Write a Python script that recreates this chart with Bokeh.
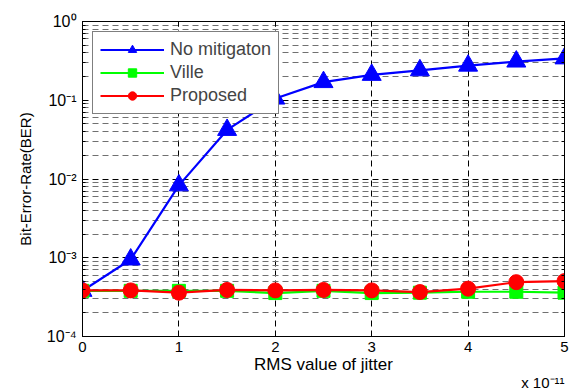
from bokeh.plotting import figure
from bokeh.models import FixedTicker, LogAxis, LinearAxis, Legend, LegendItem, Title
from bokeh.embed import file_html
from bokeh.resources import INLINE

# ---- data (x in units of 1e-11 s) ----
jitter = [0, 0.5, 1, 1.5, 2, 2.5, 3, 3.5, 4, 4.5, 5]
ber_no_mitigation = [3.8e-4, 9.5e-4, 8.3e-3, 4.2e-2, 1.05e-1, 1.7e-1, 2.1e-1, 2.4e-1, 2.75e-1, 3.1e-1, 3.4e-1]
ber_ville = [3.8e-4, 3.8e-4, 3.8e-4, 3.8e-4, 3.56e-4, 3.8e-4, 3.56e-4, 3.6e-4, 3.7e-4, 3.7e-4, 3.6e-4]
ber_proposed = [3.85e-4, 3.85e-4, 3.6e-4, 3.9e-4, 3.85e-4, 3.9e-4, 3.85e-4, 3.67e-4, 4.05e-4, 4.9e-4, 5.05e-4]

x_ticks = [0, 1, 2, 3, 4, 5]
y_ticks = [1e-4, 1e-3, 1e-2, 1e-1, 1.0]
y_tick_labels = ["10\u207b\u2074", "10\u207b\u00b3", "10\u207b\u00b2", "10\u207b\u00b9", "10\u2070"]
y_minor = [m * d for d in [1e-4, 1e-3, 1e-2, 1e-1] for m in range(2, 10)]

FONT = "Liberation Sans"

p = figure(width=580, height=390, y_axis_type="log", x_range=(0, 5), y_range=(1e-4, 1),
           output_backend="svg", toolbar_location=None,
           min_border_left=82, min_border_right=16, min_border_top=21, min_border_bottom=54)

p.outline_line_color = "black"
p.outline_line_width = 1

# axes
yt = FixedTicker(ticks=y_ticks, minor_ticks=y_minor)
xt = FixedTicker(ticks=x_ticks, minor_ticks=[])
p.yaxis.ticker = yt
p.xaxis.ticker = xt
p.yaxis.major_label_overrides = {t: l for t, l in zip(y_ticks, y_tick_labels)}
for ax in (p.xaxis, p.yaxis):
    ax.major_tick_in = 5
    ax.major_tick_out = 0
    ax.minor_tick_in = 3
    ax.minor_tick_out = 0
    ax.axis_line_color = "black"
    ax.major_label_text_font = FONT
    ax.major_label_text_color = "black"
    ax.axis_label_text_font = FONT
    ax.axis_label_text_font_style = "normal"
    ax.axis_label_text_color = "black"
p.xaxis.major_label_text_font_size = "15px"
p.yaxis.major_label_text_font_size = "16px"
p.xaxis.axis_label = "RMS value of jitter"
p.yaxis.axis_label = "Bit-Error-Rate(BER)"
p.xaxis.axis_label_text_font_size = "17px"
p.yaxis.axis_label_text_font_size = "15px"
p.xaxis.major_label_standoff = 5
p.xaxis.axis_label_standoff = 0
p.yaxis.major_label_standoff = 6
p.yaxis.axis_label_standoff = 10

# mirrored tick-only axes
ra = LogAxis(ticker=yt, major_label_text_font_size="1px", major_label_text_alpha=0,
             major_tick_in=5, major_tick_out=0, minor_tick_in=3, minor_tick_out=0, major_label_standoff=0)
ta = LinearAxis(ticker=xt, major_label_text_font_size="1px", major_label_text_alpha=0,
                major_tick_in=5, major_tick_out=0, minor_tick_in=0, minor_tick_out=0, major_label_standoff=0)
p.add_layout(ra, "right")
p.add_layout(ta, "above")

# exponent note below the x axis
p.add_layout(Title(text="x 10\u207b\u00b9\u00b9", align="right", text_font=FONT, text_font_size="15px",
                   text_font_style="normal", text_color="black", standoff=-9, offset=0), "below")

# series
r1l = p.line(jitter, ber_no_mitigation, line_color="#0000ff", line_width=2.2)
r1m = p.scatter(jitter, ber_no_mitigation, marker="triangle", size=19, fill_color="#0000ff", line_color="#0000ff")
r2l = p.line(jitter, ber_ville, line_color="#00ff00", line_width=2.2)
r2m = p.scatter(jitter, ber_ville, marker="square", size=13, fill_color="#00ff00", line_color="#00ff00")
r3l = p.line(jitter, ber_proposed, line_color="#ff0000", line_width=2.2)
r3m = p.scatter(jitter, ber_proposed, marker="circle", size=15, fill_color="#ff0000", line_color="#ff0000")

# grids
p.xgrid.ticker = xt
p.ygrid.ticker = yt
p.xgrid.grid_line_color = "black"
p.xgrid.grid_line_dash = "6 4"
p.ygrid.grid_line_color = "black"
p.ygrid.grid_line_dash = "6 4"
p.ygrid.minor_grid_line_color = "#707070"
p.ygrid.minor_grid_line_dash = "6 4"
p.ygrid.minor_grid_line_width = 1.2

legend = Legend(items=[
    LegendItem(label="No mitigaton", renderers=[r1l, r1m]),
    LegendItem(label="Ville", renderers=[r2l, r2m]),
    LegendItem(label="Proposed", renderers=[r3l, r3m]),
], location="top_left")
legend.margin = 10
legend.padding = 7
legend.spacing = 2
legend.glyph_width = 64
legend.glyph_height = 21
legend.label_standoff = 6
legend.label_text_font = FONT
legend.label_text_font_size = "18px"
legend.border_line_color = "black"
legend.border_line_width = 1
legend.background_fill_alpha = 1
p.add_layout(legend)

open("out.html", "w").write(file_html(p, INLINE))
